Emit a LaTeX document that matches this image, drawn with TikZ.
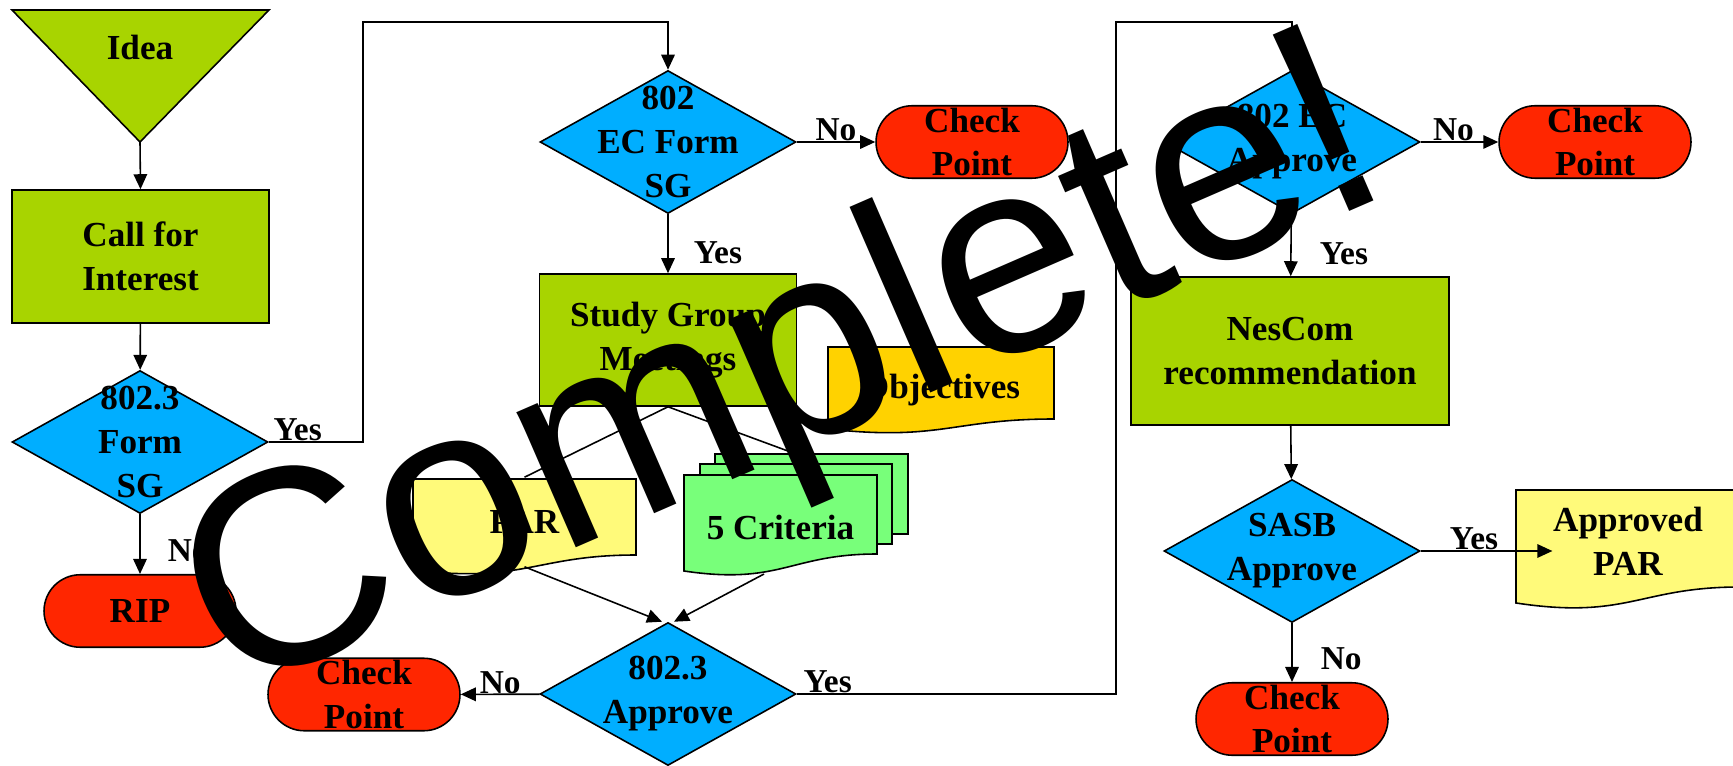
\documentclass[tikz,border=0pt]{standalone}
\usepackage{fontspec}
\setmainfont{Liberation Serif}
\newfontfamily\stampfont{Liberation Sans}
\usepackage{tikz}
\usetikzlibrary{shapes.geometric, shapes.misc, arrows.meta, positioning, calc}

\definecolor{boxgreen}{RGB}{168,212,0}
\definecolor{decblue}{RGB}{0,174,255}
\definecolor{stopred}{RGB}{255,38,0}
\definecolor{docyellow}{RGB}{255,250,122}
\definecolor{docgold}{RGB}{255,210,0}
\definecolor{docgreen}{RGB}{120,255,122}

% document sheet: x0, y0, width, left height, right height, fill
\newcommand{\docshape}[6]{%
  \filldraw[fill=#6] (#1,#2) -- ({#1+#3},#2) -- ({#1+#3},{#2+#5})
    .. controls ({#1+0.55*#3},{#2+#5}) and ({#1+0.5*#3},{#2+1.15*#4}) .. (#1,{#2+#4}) -- cycle;}

\begin{document}
\begin{tikzpicture}[x=0.02cm, y=-0.02cm, line width=0.9pt,
  >={Triangle[length=0.3cm,width=0.27cm]},
  txt/.style={font=\bfseries\fontsize{20}{25}\selectfont, align=center, inner sep=0pt},
  lbl/.style={font=\bfseries\fontsize{19}{23}\selectfont, inner sep=0pt},
  proc/.style={rectangle, draw, fill=boxgreen, txt},
  dec/.style={diamond, draw, fill=decblue, minimum width=5.12cm, minimum height=2.86cm,
    inner sep=0pt, label={[txt, anchor=center]center:#1}},
  halt/.style={rounded rectangle, draw, fill=stopred, minimum width=3.84cm, minimum height=1.45cm,
    inner sep=0pt, label={[txt, anchor=center]center:#1}},
  docnode/.style={txt, minimum height=1.76cm}]
\useasboundingbox (0,0) rectangle (1733,766);

% Start
\filldraw[fill=boxgreen] (12,10) -- (269,10) -- (140,142) -- cycle;
\node[txt] (idea) at (140,47) {Idea};
\coordinate (ideatip) at (140,142);
\node[proc, minimum width=5.14cm, minimum height=2.66cm] (call) at (140.5,256.5) {Call for\\Interest};
\node[dec={802.3\\Form\\SG}] (formsg) at (140,442) {};
\node[halt=RIP] (rip) at (140,611) {};

% Study group
\node[dec={802\\EC Form\\SG}] (ecform) at (668,142) {};
\node[halt={Check\\Point}] (cpa) at (972,142) {};
\node[proc, minimum width=5.14cm, minimum height=2.64cm] (study) at (668,340) {Study Group\\Meetings};

% Documents
\docshape{828}{347}{226}{82}{72}{docgold}
\node[txt] (obj) at (941,390) {Objectives};
\docshape{413}{479}{223}{91}{76}{docyellow}
\node[docnode] (par) at (524.5,522) {PAR};
\filldraw[fill=docgreen] (715,454) rectangle (908,534);
\filldraw[fill=docgreen] (700,464) rectangle (892,544);
\docshape{684}{475}{193}{96}{79}{docgreen}
\node[txt] (crit) at (780.5,527) {5 Criteria};
\coordinate (crittop) at (796,454);
\coordinate (critbot) at (764,574);

\node[dec={802.3\\Approve}] (approve) at (668,694) {};
\node[halt={Check\\Point}] (cpb) at (364,694.5) {};

% Sponsor ballot
\node[dec={802 EC\\Approve}] (ecappr) at (1292,142) {};
\node[halt={Check\\Point}] (cpc) at (1595,142) {};
\node[proc, minimum width=6.36cm, minimum height=2.96cm] (nescom) at (1290,351) {NesCom\\recommendation};
\node[dec={SASB\\Approve}] (sasb) at (1292,551) {};
\docshape{1516}{490}{224}{113}{97}{docyellow}
\node[docnode] (apar) at (1628,541) {Approved\\PAR};
\node[halt={Check\\Point}] (cpd) at (1292,719) {};

% Connectors
\coordinate (upa) at (363,22);
\coordinate (upb) at (1116,22);
\draw[->] (ideatip) -- (call.north);
\draw[->] (call) -- (formsg);
\draw[->] (formsg.east) node[lbl, anchor=south west, xshift=0.08cm] {Yes} -| (upa) -| (ecform.north);
\draw[->] (formsg) -- node[lbl, anchor=west, xshift=0.54cm, yshift=-0.14cm] {No} (rip);
\draw[->] (ecform) -- node[lbl, anchor=south] {No} (cpa);
\draw[->] (ecform) -- node[lbl, anchor=west, xshift=0.5cm, yshift=-0.17cm] {Yes} (study);
\draw (study.south) -- (par.north);
\draw (study.south) -- (crittop);
\draw[->] (par.south) -- ([xshift=-0.12cm]approve.north);
\draw[->] (critbot) -- ([xshift=0.12cm]approve.north);
\draw[->] (approve) -- node[lbl, anchor=south] {No} (cpb);
\draw[->] (approve.east) node[lbl, anchor=south west, xshift=0.12cm] {Yes} -| (upb) -| (ecappr.north);
\draw[->] (ecappr) -- node[lbl, anchor=south, xshift=-0.12cm] {No} (cpc);
\draw[->] (ecappr) -- node[lbl, anchor=west, xshift=0.56cm, yshift=-0.17cm] {Yes} (nescom);
\draw[->] (nescom) -- (sasb);
\draw[->] (sasb.east) -- node[lbl, anchor=south, xshift=-0.25cm] {Yes} (sasb.east -| apar.west);
\draw[->] (sasb) -- node[lbl, anchor=west, xshift=0.56cm, yshift=-0.13cm] {No} (cpd);

% Stamp
\node[font=\stampfont\fontsize{159}{159}\selectfont, anchor=base west, rotate=23.5, inner sep=0pt] (stamp) at (230,698) {Complete!};
\end{tikzpicture}
\end{document}
